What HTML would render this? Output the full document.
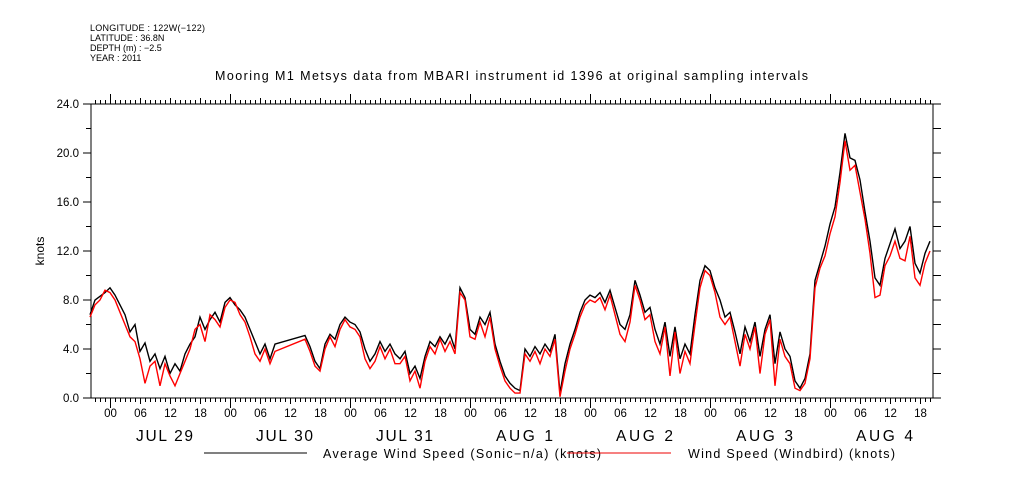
<!DOCTYPE html>
<html><head><meta charset="utf-8"><style>
body{margin:0;background:#fff;width:1009px;height:504px;overflow:hidden}
svg{display:block;font-family:"Liberation Sans",sans-serif}
</style></head><body>
<svg id="chart" width="1009" height="504" viewBox="0 0 1009 504">
<g font-size="9" fill="#000">
<text x="90" y="31" textLength="115">LONGITUDE : 122W(−122)</text>
<text x="90" y="41">LATITUDE : 36.8N</text>
<text x="90" y="51">DEPTH (m) : −2.5</text>
<text x="90" y="61">YEAR : 2011</text>
</g>
<text x="215" y="80" font-size="12.5" textLength="593" lengthAdjust="spacing">Mooring M1 Metsys data from MBARI instrument id 1396 at original sampling intervals</text>
<text transform="translate(44,251) rotate(-90)" font-size="12" text-anchor="middle">knots</text>
<g id="axes"></g>
<g id="series"></g>
<g font-size="12.5">
<line x1="204" y1="453" x2="307" y2="453" stroke="#000" stroke-width="1"/>
<text x="323" y="458" textLength="278" lengthAdjust="spacing">Average Wind Speed (Sonic−n/a) (knots)</text>
<line x1="567" y1="453" x2="671" y2="453" stroke="#e00" stroke-width="1"/>
<text x="688" y="458" textLength="207" lengthAdjust="spacing">Wind Speed (Windbird) (knots)</text>
</g>
</svg>
<script>
const yTicks=[0,4,8,12,16,20,24];
const yTickLabels=["0.0","4.0","8.0","12.0","16.0","20.0","24.0"];
const dayLabels=["JUL 29","JUL 30","JUL 31","AUG  1","AUG  2","AUG  3","AUG  4"];
const hourLabels=["00","06","12","18"];
const hoursA=[];for(let h=-4;h<=33;h++)hoursA.push(h);
const hoursB=[];for(let h=39;h<=164;h++)hoursB.push(h);
const hours=hoursA.concat(hoursB);
const avgSonic=[6.8,8.0,8.3,8.6,9.0,8.4,7.6,6.8,5.4,6.0,3.8,4.5,3.0,3.6,2.4,3.4,2.0,2.8,2.2,3.6,4.4,5.0,6.6,5.6,6.4,7.0,6.2,7.8,8.2,7.6,7.2,6.6,5.6,4.6,3.6,4.4,3.2,4.4,
5.1,4.2,3.0,2.4,4.4,5.2,4.8,6.0,6.6,6.2,6.0,5.4,4.0,3.0,3.6,4.6,3.8,4.4,3.6,3.2,3.8,2.0,2.6,1.6,3.4,4.6,4.2,5.0,4.4,5.2,4.0,
9.0,8.2,5.6,5.2,6.6,6.0,7.0,4.4,3.0,1.8,1.2,0.8,0.6,4.0,3.4,4.2,3.6,4.4,3.8,5.2,0.4,2.8,4.4,5.6,7.0,8.0,8.4,8.2,8.6,7.8,8.8,7.4,6.0,5.6,6.8,9.6,8.4,7.0,7.4,5.6,
4.4,6.2,3.4,5.8,3.2,4.4,3.6,6.8,9.6,10.8,10.4,9.0,8.0,6.6,7.0,5.4,3.6,5.8,4.6,6.2,3.4,5.6,6.8,2.8,5.4,4.0,3.4,1.4,0.8,1.6,3.6,9.6,11.0,12.4,14.2,15.6,18.4,21.6,19.6,19.4,17.8,15.2,12.8,9.8,9.2,11.4,12.6,13.8,12.2,12.8,14.0,11.0,10.2,11.8,12.8];
const windbird=[6.6,7.6,8.0,8.8,8.6,8.0,7.0,6.0,5.0,4.6,3.2,1.2,2.6,3.0,1.0,2.8,1.8,1.0,2.0,3.0,4.0,5.6,6.0,4.6,6.8,6.4,5.8,7.4,8.0,7.8,6.8,6.2,5.0,3.6,3.0,4.0,2.8,3.8,
4.8,3.8,2.6,2.2,4.0,5.0,4.2,5.6,6.4,5.8,5.6,5.0,3.2,2.4,3.0,4.2,3.2,4.0,2.8,2.8,3.4,1.4,2.2,0.8,3.0,4.2,3.6,4.8,3.8,4.6,3.6,
8.6,8.0,5.0,4.8,6.2,5.0,6.6,4.0,2.6,1.4,0.8,0.4,0.4,3.6,3.0,3.8,2.8,4.0,3.4,4.8,0.1,2.2,4.0,5.2,6.6,7.6,8.0,7.8,8.2,7.2,8.4,6.8,5.2,4.6,6.2,9.2,8.0,6.4,6.8,4.6,
3.6,5.8,1.8,5.4,2.0,3.8,2.8,6.0,9.0,10.4,10.0,8.6,6.6,6.0,6.6,4.6,2.6,5.2,4.0,5.8,2.0,5.2,6.4,1.0,4.8,3.4,2.8,0.8,0.6,1.2,3.2,9.0,10.6,11.6,13.4,14.8,17.6,21.0,18.6,19.0,16.8,14.6,11.8,8.2,8.4,10.8,11.6,12.8,11.4,11.2,13.2,9.8,9.2,11.0,12.0];

const L=91,R=933,T=104,B=398,X0=110,PX_H=5;
const xS=h=>X0+h*PX_H;
const yS=v=>B-(v/24)*(B-T);
const NS="http://www.w3.org/2000/svg";
function mk(tag,attrs,parent){const e=document.createElementNS(NS,tag);for(const k in attrs)e.setAttribute(k,attrs[k]);parent.appendChild(e);return e;}
const ax=document.getElementById('axes');
const frame=mk('rect',{x:L,y:T,width:R-L,height:B-T,fill:'none',stroke:'#000','stroke-width':1},ax);


yTicks.forEach((v,i)=>{
  const y=yS(v);
  const t=mk('line',{x1:L-8,y1:y,x2:L,y2:y,stroke:'#000'},ax);
  
  
  const t2=mk('line',{x1:R,y1:y,x2:R+8,y2:y,stroke:'#000'},ax);
  
  
  const lb=mk('text',{x:L-12,y:y+4,'font-size':11.5,'text-anchor':'end'},ax);
  lb.textContent=yTickLabels[i];
  
  
  if(i<yTicks.length-1){
    const ym=yS(v+2);
    const m=mk('line',{x1:L-5,y1:ym,x2:L,y2:ym,stroke:'#000'},ax);
    
    
    const m2=mk('line',{x1:R,y1:ym,x2:R+8,y2:ym,stroke:'#000'},ax);
    
    
  }
});
for(let h=-3;h<=164;h++){
  const x=xS(h)+0.5;
  const major=(h%24===0), six=(h%6===0);
  const len=major?10:(six?6:4);
  const b=mk('line',{x1:x,y1:B,x2:x,y2:B+len,stroke:'#000'},ax);
  
  
  const tp=mk('line',{x1:x,y1:T,x2:x,y2:T-len,stroke:'#000'},ax);
  
  
  if(six){
    const lb=mk('text',{x:x,y:417,'font-size':11.5,'text-anchor':'middle'},ax);
    lb.textContent=hourLabels[((h%24)+24)%24/6];
    
    
  }
}
dayLabels.forEach((d,i)=>{
  const lb=mk('text',{x:xS(i*24+12)-34,y:441,'font-size':15.5,textLength:57,lengthAdjust:'spacing','xml:space':'preserve'},ax);
  lb.textContent=d;
  
  
});
const sg=document.getElementById('series');
function path(vals,color,name){
  const pts=hours.map((h,i)=>xS(h).toFixed(1)+','+yS(vals[i]).toFixed(1)).join(' ');
  const p=mk('polyline',{points:pts,fill:'none',stroke:color,'stroke-width':1.4,'stroke-linejoin':'miter'},sg);
  
  
}
path(avgSonic,'#000','average-wind-speed-line');
path(windbird,'#ff0000','windbird-wind-speed-line');
</script>
</body></html>
